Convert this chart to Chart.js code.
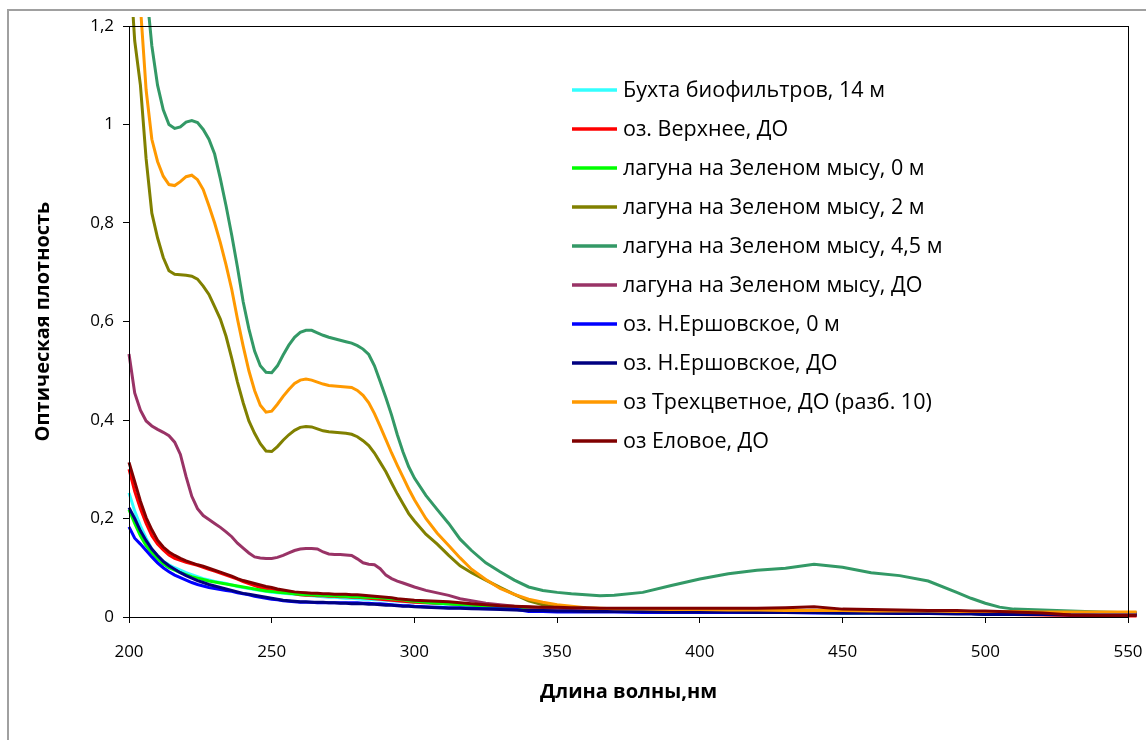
<!DOCTYPE html>
<html>
<head>
<meta charset="utf-8">
<script src="https://cdn.jsdelivr.net/npm/chart.js@4.4.1/dist/chart.umd.min.js"></script>
<style>
  html, body { margin: 0; padding: 0; background: #fff; }
  #wrap { width: 1146px; height: 740px; position: relative; }
</style>
</head>
<body>
<div id="wrap"><canvas id="spectra" width="1146" height="740"></canvas></div>
<script>
// wavelength grid, nm
const wl = [200,202,204,206,208,210,212,214,216,218,220,222,224,226,228,230,232,234,236,238,240,242,244,246,248,250,252,254,256,258,260,262,264,266,268,270,272,274,276,278,280,282,284,286,288,290,292,294,296,298,300,304,308,312,316,320,325,330,335,340,345,350,355,360,365,370,380,390,400,410,420,430,440,450,460,470,480,490,495,500,505,510,520,530,540,553];

// optical density per sample
const bukhta = [0.252,0.215,0.185,0.16,0.138,0.122,0.113,0.106,0.1,0.095,0.09,0.086,0.082,0.078,0.075,0.072,0.07,0.068,0.065,0.062,0.06,0.058,0.056,0.054,0.052,0.05,0.049,0.048,0.047,0.046,0.045,0.044,0.043,0.042,0.041,0.04,0.04,0.039,0.038,0.038,0.037,0.036,0.036,0.035,0.035,0.034,0.033,0.032,0.031,0.031,0.03,0.029,0.027,0.026,0.025,0.024,0.022,0.021,0.02,0.019,0.018,0.017,0.016,0.015,0.014,0.014,0.013,0.012,0.011,0.011,0.01,0.01,0.009,0.009,0.009,0.008,0.008,0.008,0.007,0.007,0.007,0.007,0.007,0.006,0.006,0.006];
const verkhnee = [0.3,0.255,0.22,0.19,0.165,0.148,0.136,0.126,0.119,0.115,0.111,0.108,0.105,0.101,0.097,0.093,0.089,0.085,0.081,0.077,0.072,0.068,0.064,0.06,0.057,0.055,0.053,0.051,0.049,0.047,0.045,0.044,0.044,0.043,0.043,0.042,0.042,0.041,0.041,0.04,0.04,0.039,0.038,0.037,0.036,0.035,0.034,0.033,0.032,0.031,0.03,0.029,0.028,0.027,0.026,0.025,0.023,0.022,0.021,0.02,0.019,0.018,0.017,0.016,0.015,0.015,0.014,0.013,0.012,0.011,0.011,0.01,0.01,0.009,0.009,0.008,0.008,0.007,0.007,0.006,0.006,0.005,0.004,0.003,0.002,0.002];
const laguna0 = [0.218,0.19,0.165,0.145,0.13,0.118,0.108,0.1,0.095,0.09,0.086,0.082,0.079,0.076,0.073,0.071,0.069,0.067,0.065,0.063,0.061,0.059,0.057,0.055,0.053,0.052,0.05,0.049,0.048,0.047,0.046,0.045,0.045,0.044,0.044,0.043,0.043,0.042,0.042,0.041,0.041,0.04,0.04,0.039,0.039,0.038,0.037,0.036,0.035,0.033,0.032,0.03,0.028,0.027,0.025,0.024,0.022,0.02,0.019,0.018,0.017,0.016,0.015,0.014,0.013,0.013,0.012,0.012,0.011,0.01,0.01,0.009,0.009,0.008,0.008,0.008,0.007,0.007,0.007,0.006,0.006,0.006,0.006,0.005,0.005,0.005];
const laguna2 = [1.35,1.17,1.08,0.93,0.82,0.77,0.73,0.703,0.696,0.695,0.694,0.692,0.686,0.672,0.655,0.63,0.605,0.57,0.525,0.477,0.435,0.398,0.373,0.352,0.337,0.336,0.346,0.359,0.37,0.379,0.385,0.387,0.386,0.382,0.378,0.376,0.375,0.374,0.373,0.371,0.366,0.358,0.348,0.333,0.314,0.295,0.272,0.25,0.23,0.21,0.195,0.168,0.148,0.125,0.104,0.09,0.075,0.06,0.046,0.033,0.025,0.02,0.017,0.015,0.014,0.013,0.013,0.012,0.012,0.012,0.012,0.011,0.011,0.011,0.011,0.011,0.011,0.01,0.01,0.01,0.01,0.009,0.009,0.009,0.008,0.008];
const laguna45 = [1.9,1.7,1.45,1.28,1.16,1.08,1.03,1.0,0.992,0.995,1.005,1.008,1.004,0.99,0.97,0.94,0.89,0.835,0.775,0.71,0.64,0.585,0.54,0.51,0.497,0.496,0.51,0.532,0.552,0.568,0.578,0.582,0.582,0.577,0.572,0.568,0.565,0.562,0.559,0.556,0.551,0.544,0.533,0.51,0.478,0.445,0.41,0.37,0.335,0.305,0.282,0.247,0.218,0.19,0.158,0.135,0.11,0.092,0.075,0.061,0.054,0.05,0.047,0.045,0.043,0.044,0.05,0.064,0.077,0.088,0.095,0.099,0.107,0.101,0.09,0.084,0.073,0.05,0.038,0.028,0.02,0.016,0.014,0.012,0.01,0.008];
const lagunaDO = [0.534,0.455,0.42,0.398,0.388,0.381,0.375,0.368,0.355,0.33,0.285,0.245,0.22,0.206,0.198,0.19,0.182,0.173,0.163,0.15,0.14,0.13,0.122,0.12,0.119,0.119,0.121,0.125,0.13,0.135,0.138,0.139,0.139,0.138,0.132,0.128,0.127,0.127,0.126,0.125,0.118,0.11,0.107,0.106,0.098,0.085,0.078,0.073,0.069,0.065,0.061,0.054,0.049,0.044,0.037,0.033,0.028,0.025,0.022,0.02,0.018,0.017,0.016,0.015,0.014,0.014,0.013,0.013,0.012,0.012,0.012,0.011,0.011,0.011,0.01,0.01,0.01,0.01,0.009,0.009,0.009,0.009,0.009,0.008,0.008,0.008];
const ershov0 = [0.183,0.16,0.148,0.135,0.122,0.11,0.1,0.092,0.085,0.08,0.075,0.07,0.066,0.063,0.06,0.058,0.056,0.054,0.052,0.049,0.047,0.045,0.042,0.04,0.038,0.036,0.035,0.033,0.032,0.031,0.03,0.03,0.03,0.029,0.029,0.029,0.029,0.029,0.029,0.029,0.029,0.028,0.028,0.027,0.027,0.026,0.025,0.024,0.023,0.023,0.022,0.021,0.02,0.019,0.019,0.018,0.017,0.017,0.016,0.011,0.011,0.01,0.01,0.01,0.01,0.01,0.009,0.009,0.009,0.009,0.009,0.009,0.008,0.008,0.008,0.008,0.007,0.007,0.007,0.006,0.006,0.006,0.006,0.005,0.005,0.005];
const ershovDO = [0.222,0.2,0.175,0.155,0.138,0.125,0.113,0.104,0.097,0.09,0.084,0.079,0.074,0.07,0.066,0.063,0.06,0.057,0.054,0.051,0.048,0.046,0.044,0.042,0.04,0.038,0.036,0.034,0.033,0.032,0.031,0.031,0.03,0.03,0.03,0.029,0.029,0.028,0.028,0.027,0.027,0.027,0.026,0.026,0.025,0.024,0.024,0.023,0.022,0.022,0.021,0.02,0.019,0.018,0.018,0.017,0.016,0.015,0.014,0.013,0.013,0.012,0.012,0.011,0.011,0.011,0.011,0.01,0.01,0.01,0.009,0.009,0.009,0.008,0.008,0.007,0.007,0.006,0.006,0.005,0.005,0.005,0.005,0.004,0.004,0.004];
const trekhcvet = [1.65,1.42,1.24,1.07,0.97,0.925,0.895,0.878,0.876,0.884,0.894,0.897,0.888,0.868,0.835,0.8,0.76,0.715,0.665,0.605,0.55,0.5,0.46,0.43,0.416,0.418,0.432,0.448,0.462,0.474,0.481,0.483,0.481,0.477,0.473,0.47,0.469,0.468,0.467,0.466,0.46,0.45,0.435,0.413,0.387,0.36,0.333,0.308,0.284,0.26,0.238,0.2,0.17,0.145,0.12,0.097,0.076,0.058,0.046,0.036,0.03,0.025,0.022,0.019,0.018,0.017,0.016,0.015,0.015,0.014,0.014,0.013,0.013,0.013,0.012,0.012,0.012,0.011,0.011,0.011,0.011,0.011,0.01,0.01,0.01,0.01];
const elovoe = [0.314,0.275,0.235,0.202,0.177,0.156,0.142,0.132,0.125,0.119,0.114,0.11,0.106,0.103,0.099,0.095,0.091,0.087,0.083,0.078,0.074,0.071,0.068,0.065,0.062,0.06,0.057,0.055,0.053,0.051,0.05,0.049,0.048,0.048,0.047,0.047,0.046,0.046,0.046,0.045,0.045,0.044,0.043,0.042,0.041,0.04,0.039,0.037,0.036,0.035,0.034,0.033,0.032,0.031,0.029,0.027,0.025,0.023,0.022,0.021,0.02,0.02,0.019,0.019,0.018,0.018,0.018,0.018,0.018,0.018,0.018,0.019,0.021,0.016,0.015,0.014,0.013,0.013,0.012,0.012,0.011,0.01,0.008,0.004,0.003,0.003];

const seriesNames = [
    'Бухта биофильтров, 14 м',
    'оз. Верхнее, ДО',
    'лагуна на Зеленом мысу, 0 м',
    'лагуна на Зеленом мысу, 2 м',
    'лагуна на Зеленом мысу, 4,5 м',
    'лагуна на Зеленом мысу, ДО',
    'оз. Н.Ершовское, 0 м',
    'оз. Н.Ершовское, ДО',
    'оз Трехцветное, ДО (разб. 10)',
    'оз Еловое, ДО'
];
const seriesValues = [bukhta, verkhnee, laguna0, laguna2, laguna45, lagunaDO, ershov0, ershovDO, trekhcvet, elovoe];
const seriesColors = ['#33FFFF', '#FF0000', '#00FF00', '#808000', '#339966', '#993366', '#0000FF', '#000080', '#FF9900', '#800000'];

const yTicks = [0, 0.2, 0.4, 0.6, 0.8, 1, 1.2];
const xTicks = [200, 250, 300, 350, 400, 450, 500, 550];

const FONT = "'Open Sans', 'DejaVu Sans', sans-serif";

// builds the datasets, last series is drawn on top (like in Excel)
const datasets = seriesNames.map((name, i) => ({
    label: name,
    data: wl.map((x, j) => ({ x: x, y: seriesValues[i][j] })),
    borderColor: seriesColors[i],
    backgroundColor: seriesColors[i],
    borderWidth: 3,
    pointRadius: 0,
    tension: 0,
    order: seriesNames.length - i,
    clip: { left: 2, top: 9, right: 12, bottom: 3 }
}));

// frame around the plot area plus the grey outer border
const framePlugin = {
    id: 'frame',
    beforeDraw(chart) {
        const ctx = chart.ctx;
        ctx.save();
        ctx.strokeStyle = '#a0a0a0';
        ctx.lineWidth = 2;
        ctx.strokeRect(8, 10, 1160, 760);
        ctx.restore();
    },
    afterDraw(chart) {
        const { ctx, chartArea: a } = chart;
        ctx.save();
        ctx.strokeStyle = '#000';
        ctx.lineWidth = 1;
        ctx.strokeRect(Math.round(a.left) + 0.5, Math.round(a.top) + 0.5, Math.round(a.right - a.left), Math.round(a.bottom - a.top));
        ctx.restore();
    }
};

// legend drawn inside the plot, as in the original
const legendPlugin = {
    id: 'insideLegend',
    afterDraw(chart) {
        const ctx = chart.ctx;
        ctx.save();
        ctx.font = '21.5px ' + FONT;
        ctx.textBaseline = 'middle';
        ctx.fillStyle = '#000';
        for (let i = 0; i < seriesNames.length; i++) {
            const y = 90 + i * 39;
            ctx.strokeStyle = seriesColors[i];
            ctx.lineWidth = 3.5;
            ctx.beginPath();
            ctx.moveTo(572, y);
            ctx.lineTo(617, y);
            ctx.stroke();
            ctx.fillText(seriesNames[i], 623, y + 1);
        }
        ctx.restore();
    }
};

new Chart(document.getElementById('spectra'), {
    type: 'line',
    data: { datasets: datasets },
    options: {
        responsive: false,
        animation: false,
        events: [],
        layout: { padding: { left: 0, top: 26, right: 18, bottom: 0 } },
        plugins: { legend: { display: false }, tooltip: { enabled: false } },
        scales: {
            x: {
                type: 'linear',
                min: 200,
                max: 550,
                afterFit(scale) {
                    scale.height = 123;
                    scale.paddingLeft = 0;
                    scale.paddingRight = 0;
                },
                afterBuildTicks(scale) { scale.ticks = xTicks.map(v => ({ value: v })); },
                grid: { drawOnChartArea: false, drawTicks: true, tickLength: 6, color: '#000' },
                border: { display: true, color: '#000' },
                ticks: { color: '#000', font: { family: FONT, size: 17 }, padding: 19, maxRotation: 0 },
                title: {
                    display: true,
                    text: 'Длина волны,нм',
                    color: '#000',
                    font: { family: FONT, size: 20, weight: 'bold' },
                    padding: { top: 0, bottom: 36 }
                }
            },
            y: {
                type: 'linear',
                min: 0,
                max: 1.2,
                afterFit(scale) { scale.width = 129; },
                afterBuildTicks(scale) { scale.ticks = yTicks.map(v => ({ value: v })); },
                grid: { drawOnChartArea: false, drawTicks: true, tickLength: 6, color: '#000' },
                border: { display: true, color: '#000' },
                ticks: {
                    color: '#000',
                    font: { family: FONT, size: 17 },
                    padding: 9,
                    callback: (v) => String(Math.round(v * 10) / 10).replace('.', ',')
                },
                title: {
                    display: true,
                    text: 'Оптическая плотность',
                    color: '#000',
                    font: { family: FONT, size: 20, weight: 'bold' },
                    padding: { top: 31, bottom: 0 }
                }
            }
        }
    },
    plugins: [framePlugin, legendPlugin]
});
</script>
</body>
</html>
